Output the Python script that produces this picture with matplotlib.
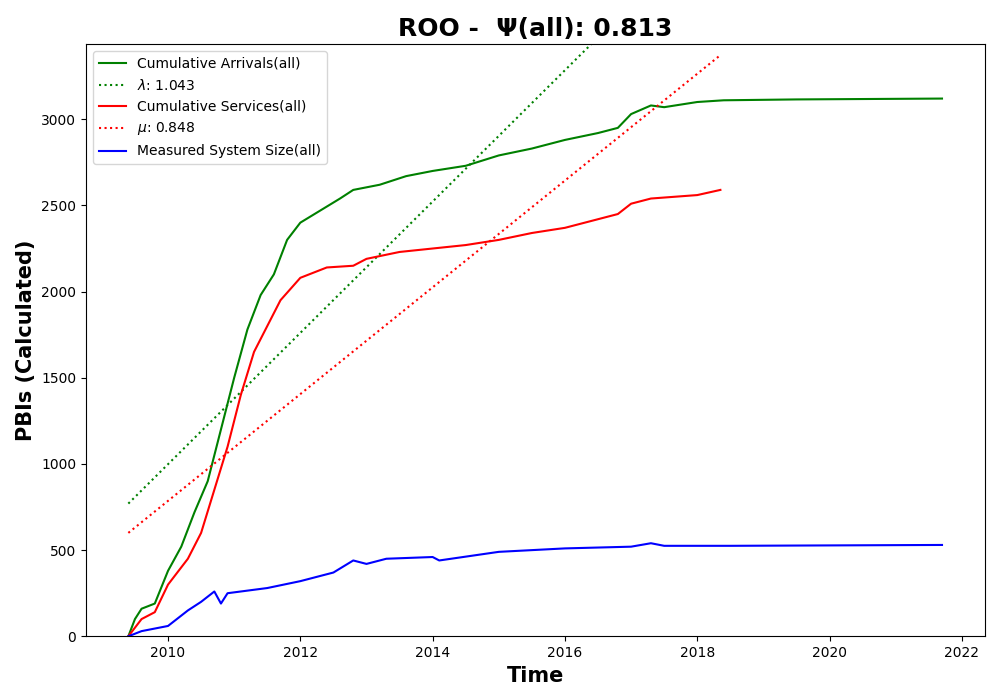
import matplotlib
matplotlib.use('Agg')
import matplotlib.pyplot as plt
import numpy as np

# cumulative arrivals (green)
arr_t = [2009.4, 2009.5, 2009.6, 2009.8, 2010.0, 2010.2, 2010.4, 2010.6, 2010.8, 2011.0,
         2011.2, 2011.4, 2011.6, 2011.8, 2012.0, 2012.3, 2012.6, 2012.8, 2013.2, 2013.6,
         2014.0, 2014.5, 2015.0, 2015.5, 2016.0, 2016.5, 2016.8, 2017.0, 2017.3, 2017.5,
         2018.0, 2018.4, 2019.5, 2021.7]
arr_v = [0, 100, 160, 190, 380, 520, 720, 900, 1200, 1500,
         1780, 1980, 2100, 2300, 2400, 2470, 2540, 2590, 2620, 2670,
         2700, 2730, 2790, 2830, 2880, 2920, 2950, 3030, 3080, 3070,
         3100, 3110, 3115, 3120]

# cumulative services (red)
srv_t = [2009.4, 2009.6, 2009.8, 2010.0, 2010.3, 2010.5, 2010.7, 2010.9, 2011.1, 2011.3,
         2011.5, 2011.7, 2012.0, 2012.4, 2012.8, 2013.0, 2013.5, 2014.0, 2014.5, 2015.0,
         2015.5, 2016.0, 2016.3, 2016.8, 2017.0, 2017.3, 2018.0, 2018.35]
srv_v = [0, 100, 140, 300, 450, 600, 850, 1100, 1400, 1650,
         1800, 1950, 2080, 2140, 2150, 2190, 2230, 2250, 2270, 2300,
         2340, 2370, 2400, 2450, 2510, 2540, 2560, 2590]

# measured system size (blue)
sys_t = [2009.4, 2009.6, 2010.0, 2010.3, 2010.5, 2010.7, 2010.8, 2010.9, 2011.5, 2012.0,
         2012.5, 2012.8, 2013.0, 2013.3, 2014.0, 2014.1, 2015.0, 2016.0, 2017.0, 2017.3,
         2017.5, 2018.5, 2021.7]
sys_v = [0, 30, 60, 150, 200, 260, 190, 250, 280, 320,
         370, 440, 420, 450, 460, 440, 490, 510, 520, 540,
         525, 525, 530]

lam, lam_start, lam_end, lam_off = 1.043, 2009.4, 2017.0, 770
mu, mu_start, mu_end, mu_off = 0.848, 2009.4, 2018.35, 600
psi = 0.813

fig, ax = plt.subplots(figsize=(10, 7), dpi=100)
ax.plot(arr_t, arr_v, color='green', label='Cumulative Arrivals(all)')
lt = np.array([lam_start, lam_end])
ax.plot(lt, lam_off + lam * 365.25 * (lt - lam_start), color='green', ls=':',
        label=f'$\\lambda$: {lam:.3f}')
ax.plot(srv_t, srv_v, color='red', label='Cumulative Services(all)')
mt = np.array([mu_start, mu_end])
ax.plot(mt, mu_off + mu * 365.25 * (mt - mu_start), color='red', ls=':',
        label=f'$\\mu$: {mu:.3f}')
ax.plot(sys_t, sys_v, color='blue', label='Measured System Size(all)')

ax.set_xlim(2008.76, 2022.35)
ax.set_ylim(0, 3436)
ax.set_xticks(range(2010, 2023, 2))
ax.set_xlabel('Time', fontsize=15, fontweight='bold')
ax.set_ylabel('PBIs (Calculated)', fontsize=15, fontweight='bold')
ax.set_title(f'ROO -  Ψ(all): {psi:.3f}', fontsize=18, fontweight='bold')
ax.legend(loc='upper left')
plt.subplots_adjust(left=0.086, right=0.985, top=0.937, bottom=0.091)
fig.savefig('out.png')
